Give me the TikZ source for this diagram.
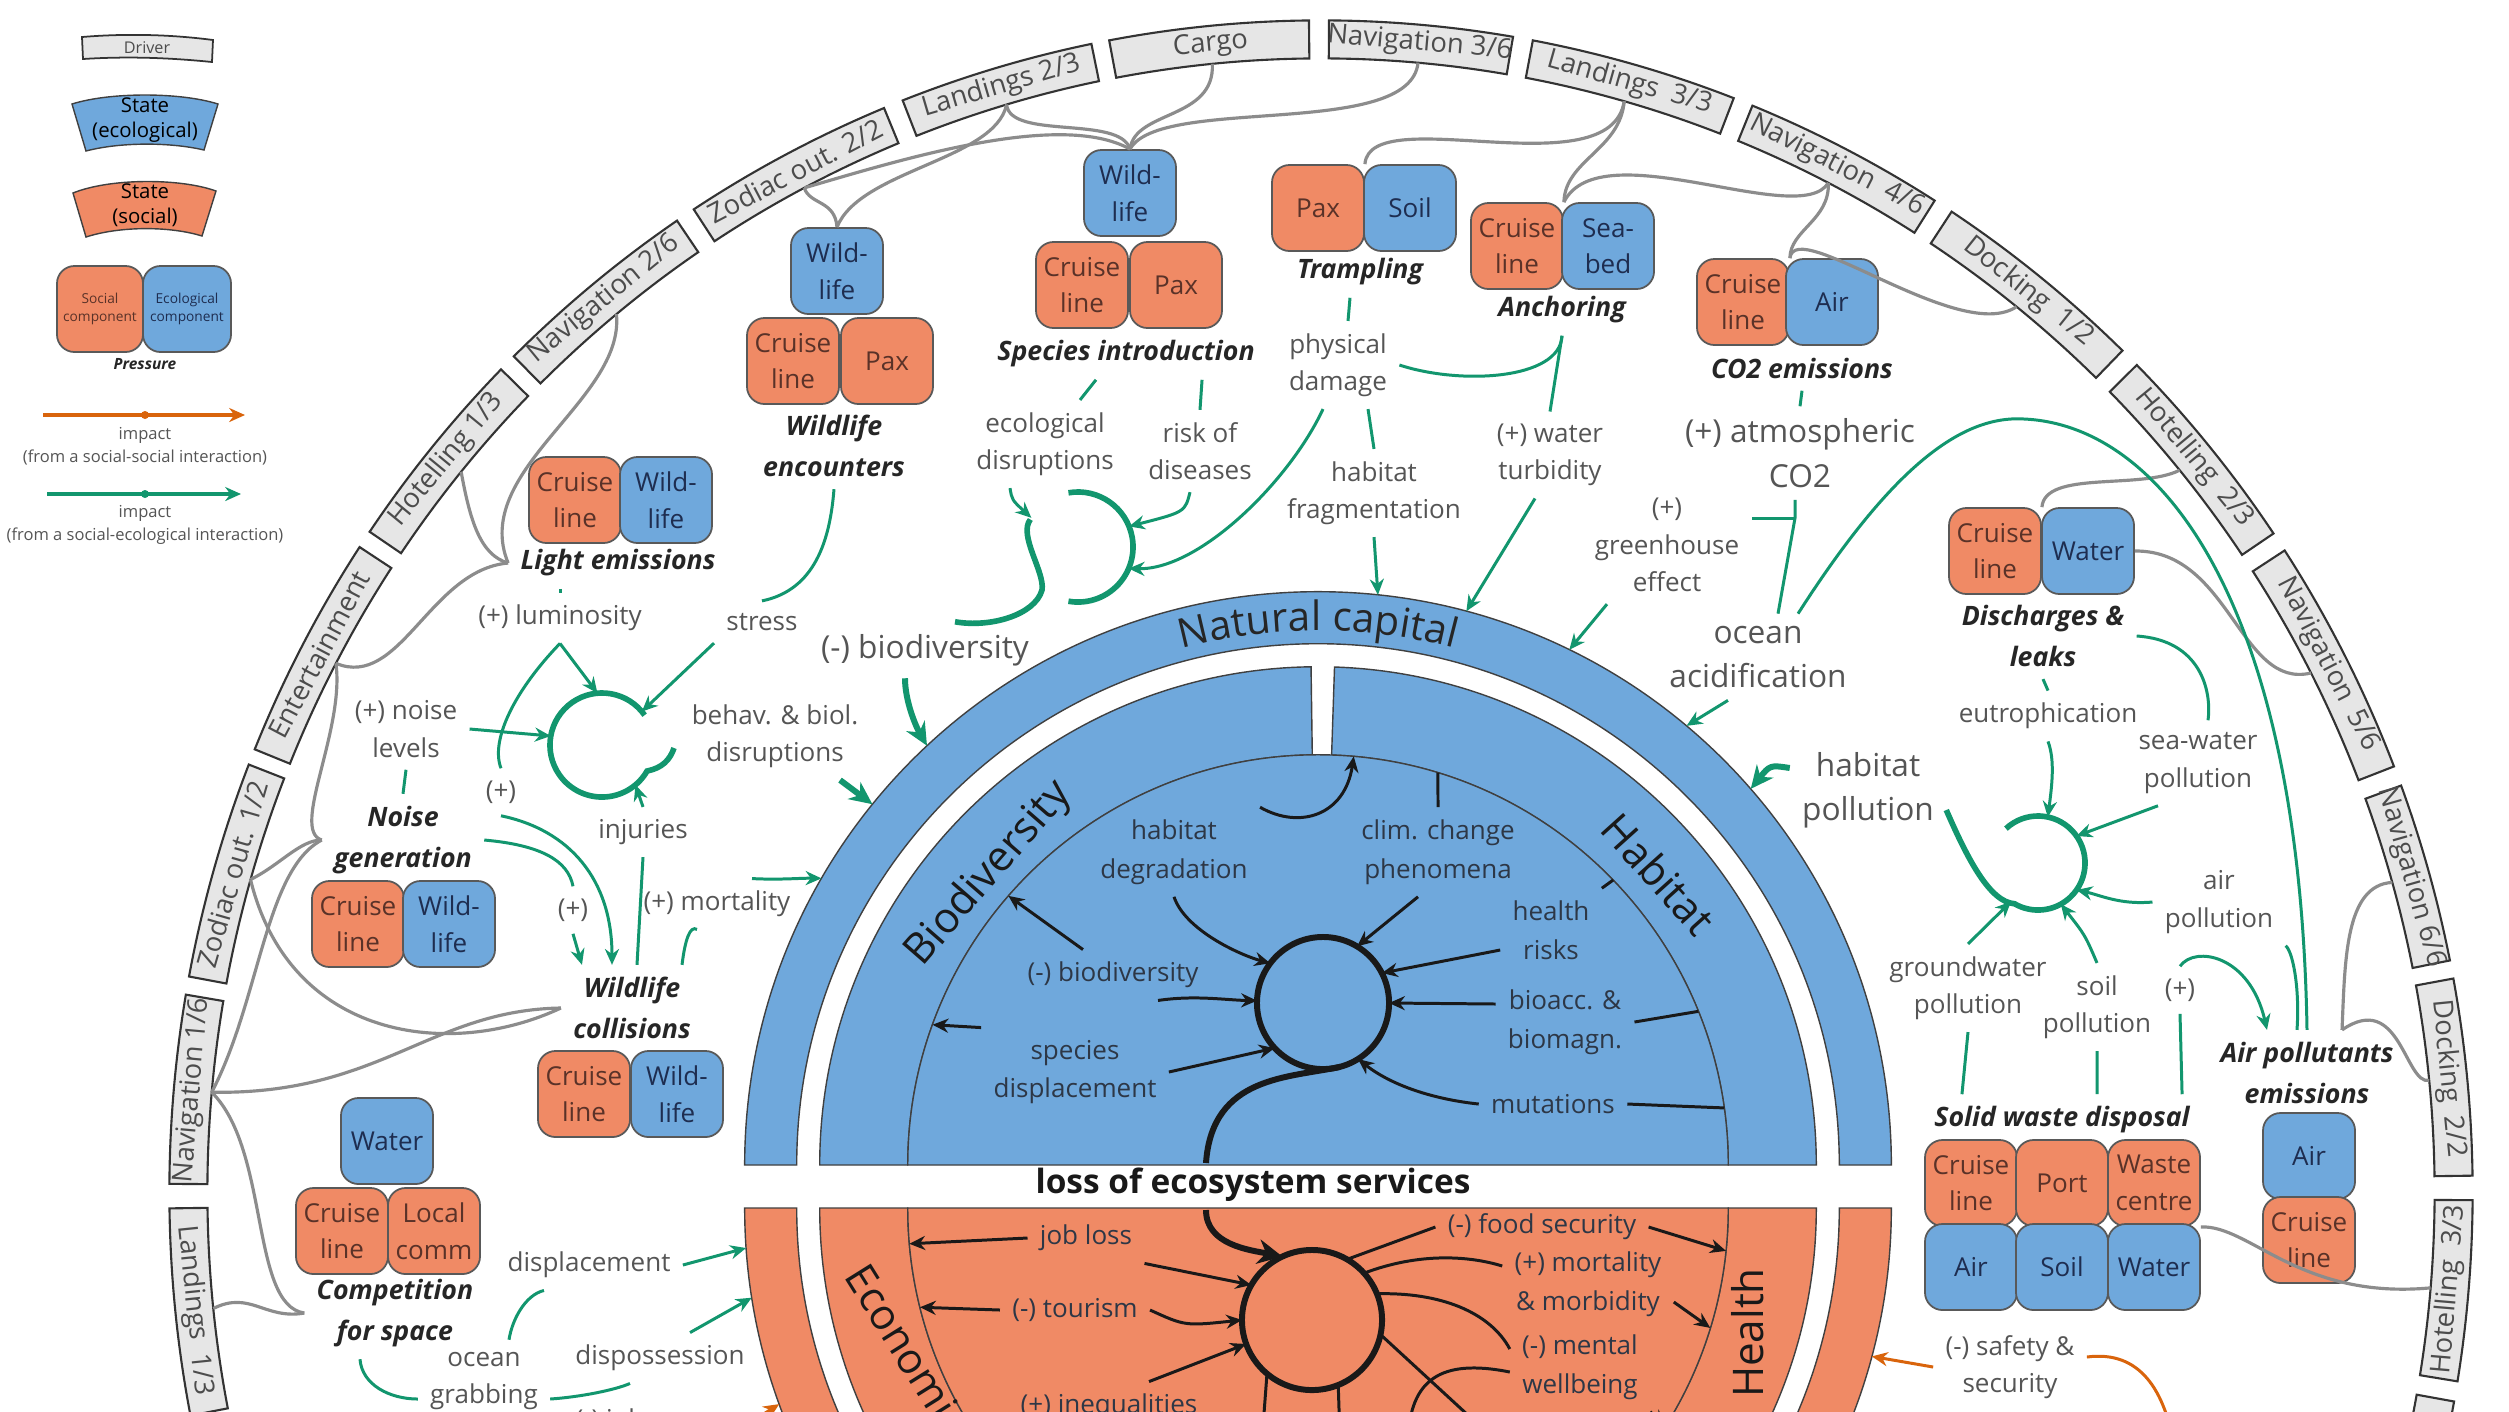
\documentclass[tikz,border=0pt]{standalone}
\usepackage{fontspec}
\setmainfont{Open Sans}
\usetikzlibrary{arrows.meta, decorations.text}

\definecolor{cblue}{RGB}{111,168,220}
\definecolor{corange}{RGB}{240,138,101}
\definecolor{cgreen}{RGB}{18,150,110}
\definecolor{corg}{RGB}{217,100,12}
\definecolor{cgrey}{RGB}{140,140,140}
\definecolor{cdrv}{RGB}{230,230,230}
\definecolor{ctxt}{RGB}{85,85,85}
\definecolor{cin}{RGB}{45,55,70}
\definecolor{ctso}{RGB}{90,50,40}
\definecolor{cteo}{RGB}{30,45,80}

\newcommand\fsz[2]{\fontsize{#1}{#2}\selectfont}
\newcommand\driverbox[4]{%
  \pgfmathsetmacro\dmid{(#1+#2)/2}%
  \pgfmathsetmacro\drot{ifthenelse(\dmid>180 || \dmid<0, \dmid+90, \dmid-90)}%
  \draw[drvbox] (#1:11.51cm and 11.71cm) arc[start angle=#1, end angle=#2, x radius=11.51cm, y radius=11.71cm]
    -- (#2:11.13cm and 11.33cm) arc[start angle=#2, end angle=#1, x radius=11.13cm, y radius=11.33cm] -- cycle;
  \node[drvtxt, rotate=\drot] at (\dmid:11.32cm and 11.52cm) {#3};
  \coordinate (#4) at (\dmid:11.13cm and 11.33cm);
}

\begin{document}
\begin{tikzpicture}[x=0.01cm, y=-0.01cm,
  soc/.style={draw=black!65, line width=0.5pt, fill=corange, rounded corners=5pt, minimum width=0.92cm, minimum height=0.86cm, inner sep=1pt, align=center, text=ctso, font=\fsz{7.4}{10.4}},
  eco/.style={soc, fill=cblue, text=cteo},
  prs/.style={align=center, text=black!85, font=\bfseries\itshape\fsz{7.6}{11.6}},
  lbl/.style={align=center, text=ctxt, font=\fsz{7.4}{10.6}},
  lblb/.style={lbl, font=\fsz{9}{12.6}},
  inl/.style={align=center, text=cin, font=\fsz{7.4}{11}},
  bandtxt/.style={text=black!90, font=\fsz{12}{14}},
  anc/.style={circle, inner sep=0pt, outer sep=0pt},
  drvbox/.style={draw=black!80, line width=0.6pt, fill=cdrv},
  drvtxt/.style={text=black!70, font=\fsz{7.8}{9}},
  band/.style={draw=black!75, line width=0.4pt},
  gry/.style={draw=cgrey, line width=0.9pt},
  gl/.style={draw=cgreen, line width=0.85pt},
  ga/.style={gl, -{Stealth[length=4.5pt, width=4pt]}},
  gt/.style={draw=cgreen, line width=1.7pt, -{Stealth[length=6.5pt, width=6pt]}},
  gloop/.style={draw=cgreen, line width=1.6pt},
  bl/.style={draw=black!90, line width=0.85pt},
  ba/.style={bl, -{Stealth[length=4.5pt, width=4pt]}},
  bloop/.style={draw=black!90, line width=1.7pt},
  ol/.style={draw=corg, line width=0.85pt},
  oa/.style={ol, -{Stealth[length=4.5pt, width=4pt]}},
  legtxt/.style={align=center, text=ctxt, font=\fsz{4.7}{6.5}}]
\useasboundingbox (0,0) rectangle (2509,1411);
\clip (0,0) rectangle (2509,1411);
\fill[white] (0,0) rectangle (2509,1411);

\begin{scope}[shift={(1321,1192)}]
\foreach \da/\db/\dl/\dn in {180.8/191/{Landings\enspace 1/3}/lan1, 170.3/179.6/{Navigation 1/6}/nav1,
  158.6/169.4/{Zodiac out. 1/2}/zod1, 146.6/157.8/{Entertainment}/ent, 135.4/145.7/{Hotelling 1/3}/hot1,
  124/134.5/{Navigation 2/6}/nav2, 112.3/123/{Zodiac out. 2/2}/zod2, 101.5/111.3/{Landings 2/3}/lan2,
  90.6/100.6/{Cargo}/car, 80.4/89.6/{Navigation 3/6}/nav3, 69/79.4/{Landings\enspace 3/3}/lan3,
  57.8/68/{Navigation\enspace 4/6}/nav4, 45.9/56.8/{Docking\enspace 1/2}/doc1, 34.2/44.9/{Hotelling\enspace 2/3}/hot2,
  21.3/33.2/{Navigation\enspace 5/6}/nav5, 11.4/20.3/{Navigation 6/6}/nav6, 0.8/10.5/{Docking\enspace 2/2}/doc2,
  -9.3/-0.4/{Hotelling\enspace 3/3}/hot3, -19.5/-10.3/{}/hot4}
  {\driverbox{\da}{\db}{\dl}{\dn}}
\end{scope}

\begin{scope}[shift={(1318,1165)}]
\draw[band, fill=cblue] (0:5.73cm) arc[start angle=0, end angle=180, radius=5.73cm] -- (180:5.21cm) arc[start angle=180, end angle=0, radius=5.21cm] -- cycle;
\draw[band, fill=cblue] (90.8:4.98cm) arc[start angle=90.8, end angle=180, radius=4.98cm] -- (180:4.10cm) arc[start angle=180, end angle=90.8, radius=4.10cm] -- cycle;
\draw[band, fill=cblue] (0:4.98cm) arc[start angle=0, end angle=88.1, radius=4.98cm] -- (88.1:4.10cm) arc[start angle=88.1, end angle=0, radius=4.10cm] -- cycle;
\draw[band, fill=cblue] (0:4.10cm) arc[start angle=0, end angle=180, radius=4.10cm] -- cycle;
\path[decorate, decoration={text along path, text align=center, text color=black!85, text={|\fsz{11.5}{14}|Natural capital}}]
  (115:5.34cm) arc[start angle=115, end angle=65, radius=5.34cm];
\end{scope}
\begin{scope}[shift={(1318,1208)}]
\draw[band, fill=corange] (180:5.73cm) arc[start angle=180, end angle=360, radius=5.73cm] -- (0:5.21cm) arc[start angle=360, end angle=180, radius=5.21cm] -- cycle;
\draw[band, fill=corange] (180:4.98cm) arc[start angle=180, end angle=268, radius=4.98cm] -- (268:4.10cm) arc[start angle=268, end angle=180, radius=4.10cm] -- cycle;
\draw[band, fill=corange] (272:4.98cm) arc[start angle=272, end angle=360, radius=4.98cm] -- (0:4.10cm) arc[start angle=360, end angle=272, radius=4.10cm] -- cycle;
\draw[band, fill=corange] (180:4.10cm) arc[start angle=180, end angle=360, radius=4.10cm] -- cycle;
\end{scope}

\node[bandtxt, rotate=49] at (989,874) {Biodiversity};
\node[bandtxt, rotate=-48] at (1659,874) {Habitat};
\node[bandtxt, rotate=-58, anchor=west] at (850,1258) {Economic};
\node[bandtxt, rotate=90] at (1748,1333) {Health};
\node[text=black!90, font=\bfseries\fsz{9.5}{11}] (lesl) at (1253,1185) {loss of ecosystem services};

\node[anc, minimum size=11.46cm] (NC) at (1318,1165) {};
\node[anc, minimum size=8.2cm] (IB) at (1318,1165) {};
\node[anc, minimum size=11.46cm] (OC) at (1318,1208) {};
\node[anc, minimum size=8.2cm] (IO) at (1318,1208) {};
\node[anc, minimum size=1.32cm] (BL) at (1323,1003) {};
\node[anc, minimum size=1.40cm] (OL) at (1312,1320) {};
\node[anc, minimum size=1.04cm] (L) at (602,745) {};
\node[anc, minimum size=1.10cm] (S) at (1078,547) {};
\node[anc, minimum size=0.94cm] (P) at (2038,863) {};

% legend
\draw[drvbox, line width=0.5pt] (82,37) .. controls (130,33) and (175,35) .. (213,40) -- (212,62) .. controls (172,58) and (130,56) .. (83,59) -- cycle;
\node[text=black!70, font=\fsz{4.6}{5}] at (147,48) {Driver};
\draw[band, fill=cblue] (72,104) .. controls (110,92) and (180,92) .. (218,104) -- (204,150) .. controls (170,142) and (120,142) .. (86,151) -- cycle;
\node[align=center, font=\fsz{5.8}{7}] at (145,120) {State\\(ecological)};
\draw[band, fill=corange] (73,193) .. controls (110,178) and (180,178) .. (216,191) -- (202,236) .. controls (170,226) and (120,226) .. (86,237) -- cycle;
\node[align=center, font=\fsz{5.8}{7}] at (145,205) {State\\(social)};
\node[soc, minimum width=0.86cm, minimum height=0.86cm, font=\fsz{3.9}{5.3}] (lgs) at (100,309) {Social\\component};
\node[eco, minimum width=0.88cm, minimum height=0.86cm, font=\fsz{3.9}{5.3}] (lge) at (187,309) {Ecological\\component};
\node[prs, font=\bfseries\itshape\fsz{4.4}{5}] at (145,364) {Pressure};
\coordinate (lo1) at (43,415);
\coordinate (lo2) at (245,415);
\draw[oa, line width=1pt] (lo1) -- (lo2);
\fill[corg] (145,415) circle[radius=0.04cm];
\node[legtxt] at (145,446) {impact\\(from a social-social interaction)};
\coordinate (lg1) at (47,494);
\coordinate (lg2) at (241,494);
\draw[ga, line width=1pt] (lg1) -- (lg2);
\fill[cgreen] (145,494) circle[radius=0.04cm];
\node[legtxt] at (145,525) {impact\\(from a social-ecological interaction)};

% pressures
\node[prs] (wenc) at (834,446) {Wildlife\\encounters};
\node[prs] (spin) at (1126,354) {Species introduction};
\node[prs] (tram) at (1360,272) {Trampling};
\node[prs] (anch) at (1562,310) {Anchoring};
\node[prs] (co2e) at (1802,368) {CO2 emissions};
\node[prs] (lemi) at (618,563) {Light emissions};
\node[prs] (nois) at (403,840) {Noise\\generation};
\node[prs] (wcol) at (632,1008) {Wildlife\\collisions};
\node[prs] (comp) at (395,1313) {Competition\\for space};
\node[prs] (disc) at (2043,636) {Discharges \&\\leaks};
\node[prs] (swd) at (2062,1120) {Solid waste disposal};
\node[prs] (ape) at (2307,1073) {Air pollutants\\emissions};

\node[eco] (we1) at (837,271) {Wild-\\life};
\node[soc] (we2) at (793,361) {Cruise\\line};
\node[soc] (we3) at (887,361) {Pax};
\node[eco] (si1) at (1130,193) {Wild-\\life};
\node[soc] (si2) at (1082,285) {Cruise\\line};
\node[soc] (si3) at (1176,285) {Pax};
\node[soc] (tr1) at (1318,208) {Pax};
\node[eco] (tr2) at (1410,208) {Soil};
\node[soc] (an1) at (1517,246) {Cruise\\line};
\node[eco] (an2) at (1608,246) {Sea-\\bed};
\node[soc] (co1) at (1743,302) {Cruise\\line};
\node[eco] (co2) at (1832,302) {Air};
\node[soc] (le1) at (575,500) {Cruise\\line};
\node[eco] (le2) at (666,500) {Wild-\\life};
\node[soc] (no1) at (358,924) {Cruise\\line};
\node[eco] (no2) at (449,924) {Wild-\\life};
\node[soc] (wc1) at (584,1094) {Cruise\\line};
\node[eco] (wc2) at (677,1094) {Wild-\\life};
\node[eco] (cs1) at (387,1141) {Water};
\node[soc] (cs2) at (342,1231) {Cruise\\line};
\node[soc] (cs3) at (434,1231) {Local\\comm};
\node[soc] (dl1) at (1995,551) {Cruise\\line};
\node[eco] (dl2) at (2088,551) {Water};
\node[soc] (sw1) at (1971,1183) {Cruise\\line};
\node[soc] (sw2) at (2062,1183) {Port};
\node[soc] (sw3) at (2154,1183) {Waste\\centre};
\node[eco] (sw4) at (1971,1267) {Air};
\node[eco] (sw5) at (2062,1267) {Soil};
\node[eco] (sw6) at (2154,1267) {Water};
\node[eco] (ap1) at (2309,1156) {Air};
\node[soc] (ap2) at (2309,1240) {Cruise\\line};

% labels
\node[lbl] (lum) at (560,618) {(+) luminosity};
\node[lbl] (str) at (762,622) {stress};
\node[lbl] (noi) at (406,729) {(+) noise\\levels};
\node[lbl] (p1) at (501,792) {(+)};
\node[lbl] (inj) at (643,832) {injuries};
\node[lbl] (beh) at (775,736) {behav. \& biol.\\disruptions};
\node[lbl] (p2) at (573,910) {(+)};
\node[lbl] (mor) at (717,904) {(+) mortality};
\node[lbl] (ecd) at (1045,444) {ecological\\disruptions};
\node[lbl] (rod) at (1200,451) {risk of\\diseases};
\node[lbl] (phd) at (1338,365) {physical\\damage};
\node[lbl] (hfr) at (1374,493) {habitat\\fragmentation};
\node[lbl] (wtb) at (1550,455) {(+) water\\turbidity};
\node[lblb] (aco) at (1800,453) {(+) atmospheric\\CO2};
\node[lbl] (ghe) at (1667,545) {(+)\\greenhouse\\effect};
\node[lblb] (oac) at (1758,657) {ocean\\acidification};
\node[lblb] (bio) at (925,650) {(-) biodiversity};
\node[lblb] (hpo) at (1868,790) {habitat\\pollution};
\node[lbl] (eut) at (2048,716) {eutrophication};
\node[lbl] (swp) at (2198,763) {sea-water\\pollution};
\node[lbl] (apo) at (2219,902) {air\\pollution};
\node[lbl] (gwp) at (1968,988) {groundwater\\pollution};
\node[lbl] (sop) at (2097,1007) {soil\\pollution};
\node[lbl] (p3) at (2180,990) {(+)};
\node[lbl] (sas) at (2010,1367) {(-) safety \&\\security};
\node[lbl] (dis) at (589,1265) {displacement};
\node[lbl] (ogr) at (484,1381) {ocean\\grabbing};
\node[lbl] (dsp) at (660,1358) {dispossession};
\node[lbl] (job) at (610,1422) {(-) job};

\node[inl] (hdg) at (1174,852) {habitat\\degradation};
\node[inl] (ccp) at (1438,852) {clim. change\\phenomena};
\node[inl] (hrk) at (1551,930) {health\\risks};
\node[inl] (bac) at (1565,1022) {bioacc. \&\\biomagn.};
\node[inl] (mut) at (1553,1104) {mutations};
\node[inl] (ibd) at (1113,975) {(-) biodiversity};
\node[inl] (spd) at (1075,1072) {species\\displacement};
\node[inl] (jbl) at (1086,1238) {job loss};
\node[inl] (tou) at (1075,1310) {(-) tourism};
\node[inl] (ineq) at (1109,1407) {(+) inequalities};
\node[inl] (fsec) at (1542,1227) {(-) food security};
\node[inl] (mmb) at (1588,1284) {(+) mortality\\\& morbidity};
\node[inl] (mwb) at (1580,1367) {(-) mental\\wellbeing};

% drivers to pressures
\draw[gry] (zod2) .. controls (810,205) and (835,200) .. (we1.north);
\draw[gry] (lan2) .. controls (995,160) and (860,170) .. (we1.north);
\draw[gry] (zod2) .. controls (900,160) and (1060,110) .. (si1.north);
\draw[gry] (lan2) .. controls (1010,140) and (1120,115) .. (si1.north);
\draw[gry] (car) .. controls (1215,120) and (1135,110) .. (si1.north);
\draw[gry] (nav3) .. controls (1410,140) and (1160,95) .. (si1.north);
\draw[gry] (lan3) .. controls (1610,190) and (1370,100) .. (tr1.north east);
\draw[gry] (lan3) .. controls (1620,150) and (1565,160) .. (an1.north east);
\draw[gry] (nav4) .. controls (1800,230) and (1600,130) .. (an1.north east);
\draw[gry] (nav4) .. controls (1830,220) and (1790,230) .. (co1.north east);
\draw[gry] (co1.north east) .. controls (1795,215) and (1960,345) .. (doc1);
\draw[gry] (hot2) .. controls (2140,490) and (2045,470) .. (dl1.north east);
\draw[gry] (dl2.east) .. controls (2230,550) and (2240,690) .. (nav5);
\draw[gry] (nav6) .. controls (2345,885) and (2345,960) .. ([xshift=0.35cm]ape.north);
\draw[gry] (doc2) .. controls (2405,1085) and (2400,990) .. ([xshift=0.35cm]ape.north);
\draw[gry] (hot3) .. controls (2300,1300) and (2250,1225) .. (sw3.south east);
\draw[gry] (nav2) .. controls (625,400) and (470,470) .. (lemi.west);
\draw[gry] (hot1) .. controls (470,520) and (480,555) .. (lemi.west);
\draw[gry] (ent) .. controls (400,690) and (430,570) .. (lemi.west);
\draw[gry] (ent) .. controls (345,730) and (290,830) .. (nois.west);
\draw[gry] (zod1) .. controls (280,865) and (300,840) .. (nois.west);
\draw[gry] (zod1) .. controls (290,1040) and (450,1060) .. (wcol.west);
\draw[gry] (nav1) .. controls (380,1095) and (430,1010) .. (wcol.west);
\draw[gry] (nav1) .. controls (260,1000) and (265,870) .. (nois.west);
\draw[gry] (nav1) .. controls (270,1150) and (250,1305) .. (comp.west);
\draw[gry] (lan1) .. controls (250,1290) and (265,1320) .. (comp.west);

% left pressures
\draw[gloop] (L.35) arc[start angle=35, end angle=330, radius=0.52cm] .. controls (662,768) and (670,760) .. (674,748);
\draw[gl] (lemi.south -| lum) -- (lum.north);
\draw[ga] (lum.south) -- (L.95);
\draw[gl] (lum.south) .. controls (515,690) and (490,740) .. (p1.north);
\draw[ga] (p1.south) .. controls (570,830) and (612,880) .. ([xshift=-0.2cm]wcol.north);
\draw[gl] (wenc.south) .. controls (830,540) and (815,590) .. (str.north);
\draw[ga] (str.south west) -- (L.40);
\draw[gl] (nois.north) -- (noi.south);
\draw[ga] (noi.east) -- (L.170);
\draw[gl] (nois.east) .. controls (540,845) and (568,860) .. (p2.north);
\draw[ga] (p2.south) -- ([xshift=-0.5cm]wcol.north);
\draw[gl] ([xshift=0.05cm]wcol.north) -- (inj.south);
\draw[ga] (inj.north) -- (L.-50);
\draw[gl] ([xshift=0.5cm]wcol.north) .. controls (685,940) and (690,925) .. ([xshift=-0.2cm]mor.south);
\draw[ga] ([xshift=0.35cm]mor.north) .. controls (780,880) and (800,878) .. (NC.150);
\draw[gt] ([xshift=0.65cm]beh.south) -- (NC.141);

% species introduction, trampling, anchoring
\draw[gloop] (S.100) arc[start angle=100, end angle=-100, radius=0.55cm];
\draw[gloop] (S.150) .. controls (1018,535) and (1045,572) .. (1042,590) .. controls (1035,615) and (990,628) .. ([xshift=0.3cm]bio.north);
\draw[gt] ([xshift=-0.2cm]bio.south) .. controls (905,700) and (915,725) .. (NC.133);
\draw[gl] ([xshift=-0.3cm]spin.south) -- ([xshift=0.35cm]ecd.north);
\draw[gl] ([xshift=0.76cm]spin.south) -- (rod.north);
\draw[ga] ([xshift=-0.35cm]ecd.south) .. controls (1012,500) .. (S.148);
\draw[ga] ([xshift=-0.1cm]rod.south) .. controls (1185,512) .. (S.22);
\draw[gl] ([xshift=-0.1cm]tram.south) -- ([xshift=0.1cm]phd.north);
\draw[ga] ([xshift=-0.15cm]phd.south) .. controls (1290,480) and (1200,570) .. (S.-23);
\draw[gl] (anch.south) .. controls (1560,380) and (1460,385) .. (phd.east);
\draw[gl] (anch.south) -- (wtb.north);
\draw[gl] ([xshift=0.3cm]phd.south) -- (hfr.north);
\draw[ga] (hfr.south) -- (NC.84);
\draw[ga] ([xshift=-0.15cm]wtb.south) -- (NC.75);

% co2
\coordinate (co2j) at (1795,518);
\draw[gl] (co2e.south) -- (aco.north);
\draw[gl] ([xshift=-0.05cm]aco.south) -- (co2j) -- ([xshift=0.2cm]oac.north);
\draw[gl] (co2j) -- (co2j -| ghe.east);
\draw[ga] ([xshift=-0.6cm]ghe.south) -- (NC.64);
\draw[ga] ([xshift=-0.3cm]oac.south) -- (NC.50);
\draw[gl] ([xshift=0.4cm]oac.north) .. controls (1890,470) and (1960,415) .. (2024,419) .. controls (2160,425) and (2300,600) .. (ape.north);

% right pressures
\draw[gloop] (P.133) arc[start angle=133, end angle=-120, radius=0.47cm] .. controls (1990,902) and (1968,860) .. ([yshift=-0.2cm]hpo.east);
\draw[gt] ([yshift=0.22cm]hpo.west) .. controls (1770,765) .. (NC.41);
\draw[gl] (disc.south) -- (eut.north);
\draw[ga] (eut.south) .. controls (2055,760) and (2052,785) .. (P.78);
\draw[gl] (disc.east) .. controls (2200,640) and (2212,690) .. ([xshift=0.1cm]swp.north);
\draw[ga] ([xshift=-0.4cm]swp.south) -- (P.35);
\draw[gl] ([xshift=-0.1cm]ape.north) .. controls (2300,985) and (2292,950) .. (apo.south east);
\draw[ga] (apo.west) .. controls (2120,905) and (2100,895) .. (P.-35);
\draw[gl] ([xshift=1.2cm]swd.north) -- (p3.south);
\draw[ga] (p3.north) .. controls (2195,945) and (2250,955) .. ([xshift=-0.4cm]ape.north);
\draw[gl] ([xshift=-1cm]swd.north) -- (gwp.south);
\draw[gl] ([xshift=0.35cm]swd.north) -- (sop.south);
\draw[ga] (gwp.north) -- (P.-125);
\draw[ga] (sop.north) .. controls (2085,935) .. (P.-61);
\coordinate (offB) at (2175,1450);
\draw[oa] (sas.west) -- (OC.-15.5);
\draw[ol] ([yshift=0.1cm]sas.east) .. controls (2140,1350) and (2165,1390) .. (offB);

% competition for space
\draw[gl] ([xshift=-0.35cm]comp.south) .. controls (362,1385) and (390,1399) .. ([yshift=-0.18cm]ogr.west);
\draw[gl] ([xshift=0.25cm]ogr.north) .. controls (512,1320) and (525,1295) .. ([xshift=-0.45cm]dis.south);
\draw[gl] ([yshift=-0.18cm]ogr.east) .. controls (580,1397) and (615,1390) .. ([xshift=-0.3cm]dsp.south);
\draw[ga] (dis.east) -- (OC.184);
\draw[ga] ([xshift=0.3cm]dsp.north) -- (OC.189);
\coordinate (offA) at (715,1445);
\draw[oa] (offA) -- (OC.200);

% natural capital
\coordinate (t1) at (1206,1163);
\coordinate (t2) at (1206,1210);
\draw[bloop] (BL) circle[radius=0.66cm];
\draw[bloop] (BL.-75) .. controls (1290,1078) and (1212,1075) .. (t1);
\draw[bloop, -{Stealth[length=7pt, width=7pt]}] (t2) .. controls (1206,1245) and (1250,1250) .. (OL.115);
\draw[ba] (hdg.south) .. controls (1185,930) and (1240,955) .. (BL.143);
\draw[ba] ([xshift=-0.2cm]ccp.south) -- (BL.59);
\draw[ba] ([yshift=-0.2cm]hrk.west) -- (BL.27);
\draw[ba] ([yshift=0.18cm]bac.west) -- (BL.0);
\draw[ba] (mut.west) .. controls (1440,1100) and (1395,1088) .. (BL.-58);
\draw[ba] ([xshift=0.45cm]ibd.south) .. controls (1195,995) and (1225,1000) .. (BL.178);
\draw[ba] (spd.east) -- (BL.-137);
\draw[ba] ([xshift=-0.3cm]ibd.north) -- (IB.139);
\draw[ba] (spd.north west) -- (IB.160);
\draw[ba] (hdg.north east) .. controls (1300,830) and (1345,815) .. (IB.85);
\draw[bl] (ccp.north) -- (IB.73);
\draw[bl] (hrk.north east) -- (IB.44);
\draw[bl] (bac.east) -- (IB.22);
\draw[bl] (mut.east) -- (IB.8);

% social capital
\coordinate (offC) at (1495,1440);
\coordinate (offD) at (1262,1440);
\coordinate (offE) at (1340,1440);
\coordinate (offF) at (1408,1440);
\draw[bloop] (OL) circle[radius=0.70cm];
\draw[ba] (jbl.west) -- (IO.185);
\draw[ba] (jbl.south east) -- (OL.150);
\draw[ba] (tou.west) -- (IO.194);
\draw[ba] (tou.east) .. controls (1185,1326) .. (OL.180);
\draw[ba] ([xshift=0.4cm]ineq.north) -- (OL.200);
\draw[bl] (OL.60) -- (fsec.west);
\draw[ba] (fsec.east) -- (IO.-6);
\draw[bl] (OL.42) .. controls (1420,1252) and (1470,1256) .. ([yshift=0.18cm]mmb.west);
\draw[ba] ([yshift=-0.18cm]mmb.east) -- (IO.-17.5);
\draw[bl] (OL.22) .. controls (1440,1292) and (1490,1312) .. ([yshift=0.18cm]mwb.west);
\draw[ba] (mwb.south east) -- (IO.-32);
\draw[bl] (OL.-12) -- (offC);
\draw[bl] (OL.-130) -- (offD);
\draw[bl] (OL.-68) -- (offE);
\draw[bl] (offF) .. controls (1410,1380) and (1440,1358) .. ([yshift=-0.05cm]mwb.west);
\end{tikzpicture}
\end{document}
